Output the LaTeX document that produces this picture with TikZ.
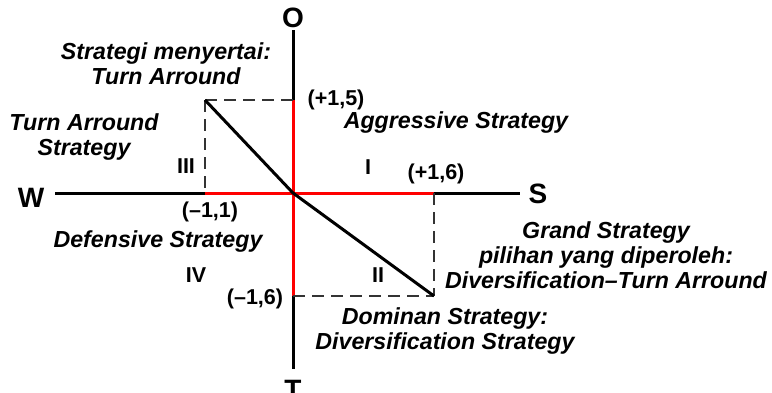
\documentclass[tikz,border=0pt]{standalone}
\usepackage{fontspec}
\setmainfont{Liberation Sans}
\begin{document}
\begin{tikzpicture}[x=1pt,y=-1pt,
  lbl/.style={font=\fontsize{23.2}{25}\selectfont\bfseries\itshape, align=center, inner sep=0pt},
  num/.style={font=\fontsize{21.5}{24}\selectfont\bfseries, inner sep=0pt},
  axislbl/.style={font=\fontsize{28}{30}\selectfont\bfseries, inner sep=0pt},
  axis/.style={line width=3pt, black},
  redax/.style={line width=3pt, red},
  dashline/.style={line width=2.5pt, black!80, dash pattern=on 12pt off 7pt},
  diag/.style={line width=3pt, black}]
\useasboundingbox (0,0) rectangle (772,392);
% key points
\coordinate (c) at (293,193);
\coordinate (otop) at (293,30);
\coordinate (tbot) at (293,369);
\coordinate (wend) at (55,193);
\coordinate (send) at (520,193);
\coordinate (p15) at (293,100);
\coordinate (p16) at (434,193);
\coordinate (m11) at (205,193);
\coordinate (m16) at (293,296);
\coordinate (qA) at (205,100);
\coordinate (qB) at (434,296);
% axes
\draw[axis] (wend) -- (send);
\draw[axis] (otop) -- (tbot);
\draw[redax] (m11) -- (p16);
\draw[redax] (p15) -- (m16);
% dashed
\draw[dashline] (qA) -- (p15);
\draw[dashline] (qA) -- (m11);
\draw[dashline] (m16) -- (qB);
\draw[dashline] (p16) -- (qB);
% diagonal
\draw[diag] (qA) -- (c) -- (qB);
% axis labels
\node[axislbl] (O) at (293,18) {O};
\node[axislbl] (T) at (293,390) {T};
\node[axislbl] (W) at (31,198) {W};
\node[axislbl] (S) at (538,194) {S};
% numbers
\node[num] (n15) at (336,100) {(+1,5)};
\node[num] (n16) at (436,174) {(+1,6)};
\node[num] (n11) at (210,212) {(--1,1)};
\node[num] (n61) at (255,299) {(--1,6)};
% quadrant numerals
\node[num] (q3) at (186,166) {III};
\node[num] (q1) at (368,167) {I};
\node[num] (q4) at (196,275) {IV};
\node[num] (q2) at (378,275) {II};
% texts
\node[lbl] (t1) at (166,64) {Strategi menyertai:\\Turn Arround};
\node[lbl] (t2) at (84,137) {Turn Arround\\Strategy};
\node[lbl] (t3) at (456,122) {Aggressive Strategy};
\node[lbl] (t4) at (158,241) {Defensive Strategy};
\node[lbl] (t5) at (606,255) {Grand Strategy\\pilihan yang diperoleh:\\Diversification--Turn Arround};
\node[lbl] (t6) at (445,331) {Dominan Strategy:\\Diversification Strategy};
\end{tikzpicture}
\end{document}
